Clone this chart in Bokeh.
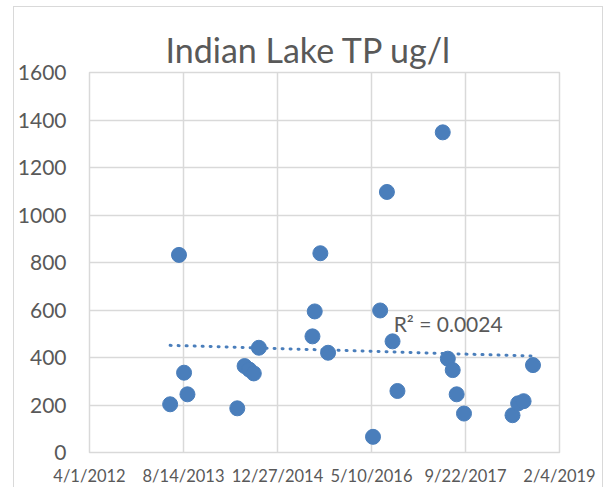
import datetime as dt
import numpy as np
from bokeh.plotting import figure
from bokeh.models import ColumnDataSource, FixedTicker, Label, Range1d
from bokeh.embed import file_html
from bokeh.resources import INLINE

# ---- data ----
sample_dates = [
    "2013-06-04", "2013-07-21", "2013-08-17", "2013-09-04",
    "2014-05-27", "2014-07-05", "2014-07-30", "2014-08-23", "2014-09-19",
    "2015-07-01", "2015-07-13", "2015-08-12", "2015-09-22",
    "2016-05-18", "2016-06-25", "2016-07-31", "2016-08-30", "2016-09-25",
    "2017-05-24", "2017-06-20", "2017-07-16", "2017-08-06", "2017-09-14",
    "2018-05-30", "2018-06-29", "2018-07-28", "2018-09-16",
]
tp_values = [
    203, 832, 336, 245,
    186, 364, 349, 333, 441,
    489, 594, 839, 420,
    66, 598, 1097, 468, 259,
    1348, 395, 347, 245, 164,
    157, 207, 216, 368,
]
x_tick_labels = ["4/1/2012", "8/14/2013", "12/27/2014", "5/10/2016", "9/22/2017", "2/4/2019"]
x_tick_dates = ["2012-04-01", "2013-08-14", "2014-12-27", "2016-05-10", "2017-09-22", "2019-02-04"]
y_ticks = [0, 200, 400, 600, 800, 1000, 1200, 1400, 1600]
r2_text = "R² = 0.0024"
title_text = "Indian Lake TP ug/l"

EPOCH = dt.date(1899, 12, 30)


def serial(s):
    return (dt.date.fromisoformat(s) - EPOCH).days


xs = [serial(d) for d in sample_dates]
x_ticks = [serial(d) for d in x_tick_dates]

FONT = "Lato"
TXT = "#595959"
GRID = "#d9d9d9"
BLUE = "#4a7ebb"

p = figure(width=590, height=481, output_backend="svg", toolbar_location=None,
           x_range=Range1d(x_ticks[0], x_ticks[-1]), y_range=Range1d(y_ticks[0], y_ticks[-1]),
           min_border_left=75, min_border_right=45, min_border_top=65, min_border_bottom=34)
p.styles = {"border-top": "1px solid #d9d9d9", "border-left": "1px solid #d9d9d9",
            "border-right": "1px solid #d9d9d9", "margin-left": "13px", "margin-top": "6px"}

p.title.text = title_text
p.title.text_font = FONT
p.title.text_font_size = "34px"
p.title.text_font_style = "normal"
p.title.text_color = TXT
p.title.align = "left"
p.title.offset = 76
p.title.standoff = 6

p.outline_line_color = GRID
p.outline_line_width = 1.5

for ax in (p.xaxis, p.yaxis):
    ax.axis_line_color = None
    ax.major_tick_line_color = None
    ax.minor_tick_line_color = None
    ax.major_tick_out = 0
    ax.major_label_text_font = FONT
    ax.major_label_text_color = TXT

p.yaxis.ticker = FixedTicker(ticks=y_ticks)
p.yaxis.major_label_text_font_size = "21px"
p.yaxis.major_label_standoff = 23
p.xaxis.ticker = FixedTicker(ticks=x_ticks)
p.xaxis.major_label_overrides = {t: l for t, l in zip(x_ticks, x_tick_labels)}
p.xaxis.major_label_text_font_size = "16.5px"
p.xaxis.major_label_standoff = 13

p.xgrid.grid_line_color = GRID
p.ygrid.grid_line_color = GRID
p.xgrid.grid_line_width = 1.5
p.ygrid.grid_line_width = 1.5

src = ColumnDataSource(dict(x=xs, y=tp_values))
p.scatter("x", "y", source=src, size=15, fill_color=BLUE, line_color=BLUE)

# linear trendline fitted to the data
coef = np.polyfit(np.array(xs, float), np.array(tp_values, float), 1)
tx = [min(xs), max(xs)]
ty = [float(np.polyval(coef, v)) for v in tx]
p.line(tx, ty, line_color=BLUE, line_width=3, line_dash="1 7", line_cap="round")

p.add_layout(Label(x=serial("2016-09-05"), y=542, text=r2_text, text_font=FONT,
                   text_font_size="21px", text_color=TXT, text_baseline="alphabetic"))

open("out.html", "w").write(file_html(p, INLINE))
